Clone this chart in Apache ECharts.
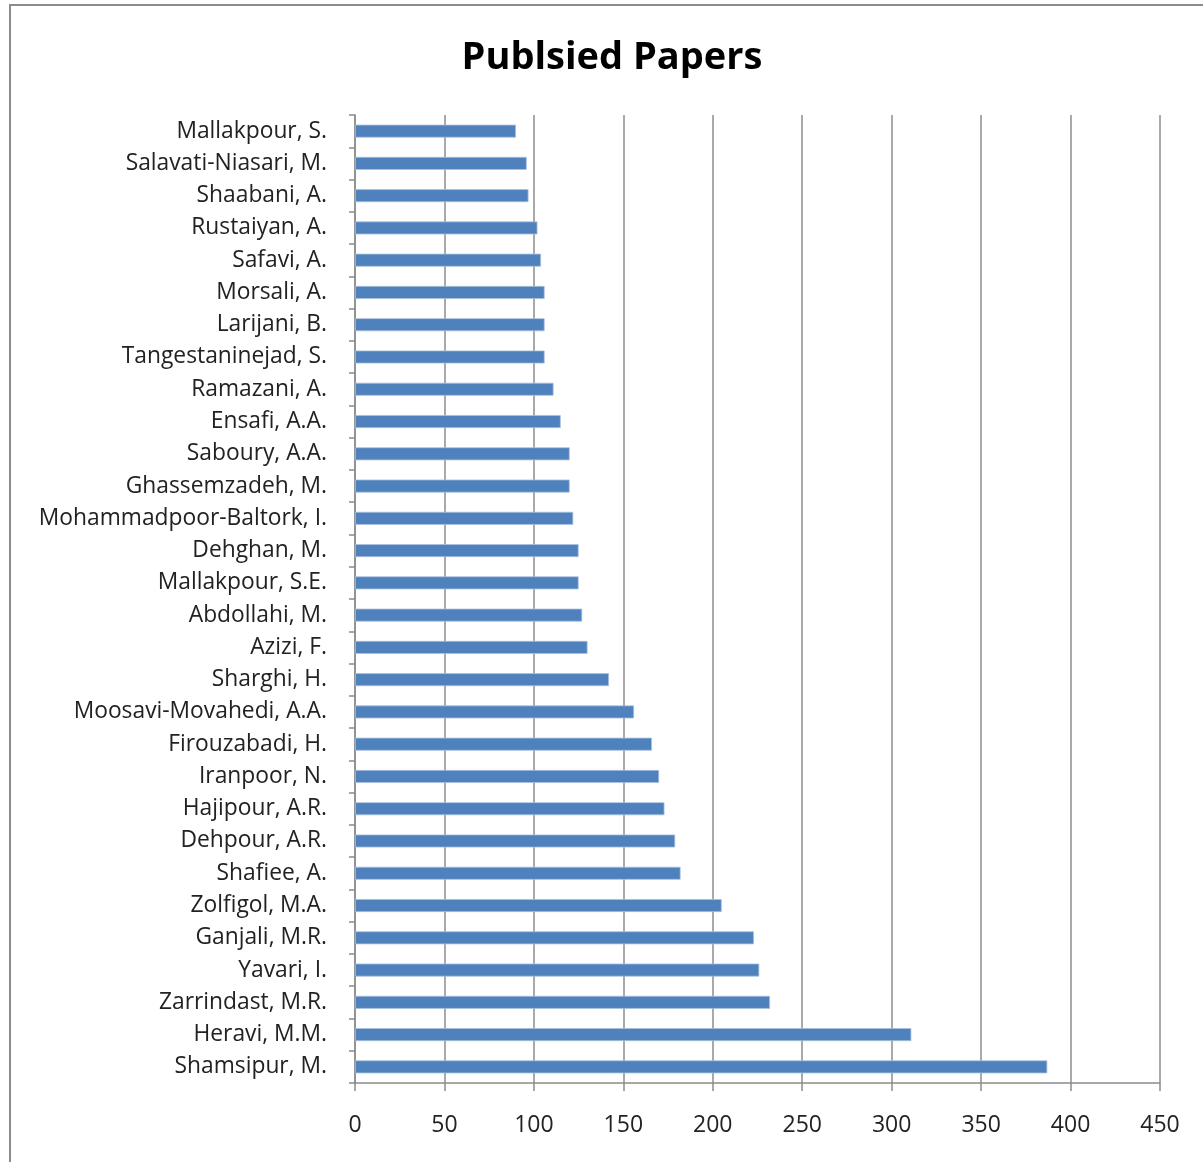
<!DOCTYPE html>
<html>
<head>
<meta charset="utf-8">
<script src="https://cdn.jsdelivr.net/npm/echarts@6/dist/echarts.min.js"></script>
<style>
html,body{margin:0;padding:0;background:#fff;}
#frame{position:absolute;left:9px;top:4px;width:1200px;height:1170px;border:2px solid #8c8c8c;box-sizing:border-box;}
#chart{position:absolute;left:0;top:0;width:1203px;height:1162px;}
</style>
</head>
<body>
<div id="frame"></div>
<div id="chart"></div>
<script>
const titleText = 'Publsied Papers';
const authors = [
  'Mallakpour, S.', 'Salavati-Niasari, M.', 'Shaabani, A.', 'Rustaiyan, A.', 'Safavi, A.',
  'Morsali, A.', 'Larijani, B.', 'Tangestaninejad, S.', 'Ramazani, A.', 'Ensafi, A.A.',
  'Saboury, A.A.', 'Ghassemzadeh, M.', 'Mohammadpoor-Baltork, I.', 'Dehghan, M.', 'Mallakpour, S.E.',
  'Abdollahi, M.', 'Azizi, F.', 'Sharghi, H.', 'Moosavi-Movahedi, A.A.', 'Firouzabadi, H.',
  'Iranpoor, N.', 'Hajipour, A.R.', 'Dehpour, A.R.', 'Shafiee, A.', 'Zolfigol, M.A.',
  'Ganjali, M.R.', 'Yavari, I.', 'Zarrindast, M.R.', 'Heravi, M.M.', 'Shamsipur, M.'
];
const papers = [
  90, 96, 97, 102, 104,
  106, 106, 106, 111, 115,
  120, 120, 122, 125, 125,
  127, 130, 142, 156, 166,
  170, 173, 179, 182, 205,
  223, 226, 232, 311, 387
];
const xTicks = [0, 50, 100, 150, 200, 250, 300, 350, 400, 450];

const chart = echarts.init(document.getElementById('chart'), null, {renderer: 'canvas'});
const font = '"Open Sans", "DejaVu Sans", sans-serif';
chart.setOption({
  animation: false,
  title: {
    text: titleText,
    left: 607, top: 34, textAlign: 'center',
    textStyle: {fontFamily: font, fontWeight: 'bold', fontSize: 38, color: '#000'}
  },
  grid: {left: 355, right: 43, top: 115, bottom: 79, containLabel: false},
  xAxis: {
    type: 'value',
    min: xTicks[0], max: xTicks[xTicks.length - 1], interval: xTicks[1] - xTicks[0],
    axisLine: {show: true, lineStyle: {color: '#8c8c8c', width: 1.5}},
    axisTick: {show: true, length: 8, lineStyle: {color: '#8c8c8c', width: 1.5}},
    axisLabel: {fontFamily: font, fontSize: 23, color: '#222', margin: 31},
    splitLine: {show: true, lineStyle: {color: '#8c8c8c', width: 1.5}}
  },
  yAxis: {
    type: 'category',
    data: authors,
    inverse: true,
    axisLine: {show: true, lineStyle: {color: '#8c8c8c', width: 1.5}},
    axisTick: {show: true, length: 6, inside: false, lineStyle: {color: '#8c8c8c', width: 1.5}},
    axisLabel: {fontFamily: font, fontSize: 22.8, color: '#222', margin: 28}
  },
  series: [{
    type: 'bar',
    data: papers,
    barWidth: 13,
    itemStyle: {color: '#4f81bd', borderColor: '#a9c1e0', borderWidth: 0.8}
  }]
});
</script>
</body>
</html>
